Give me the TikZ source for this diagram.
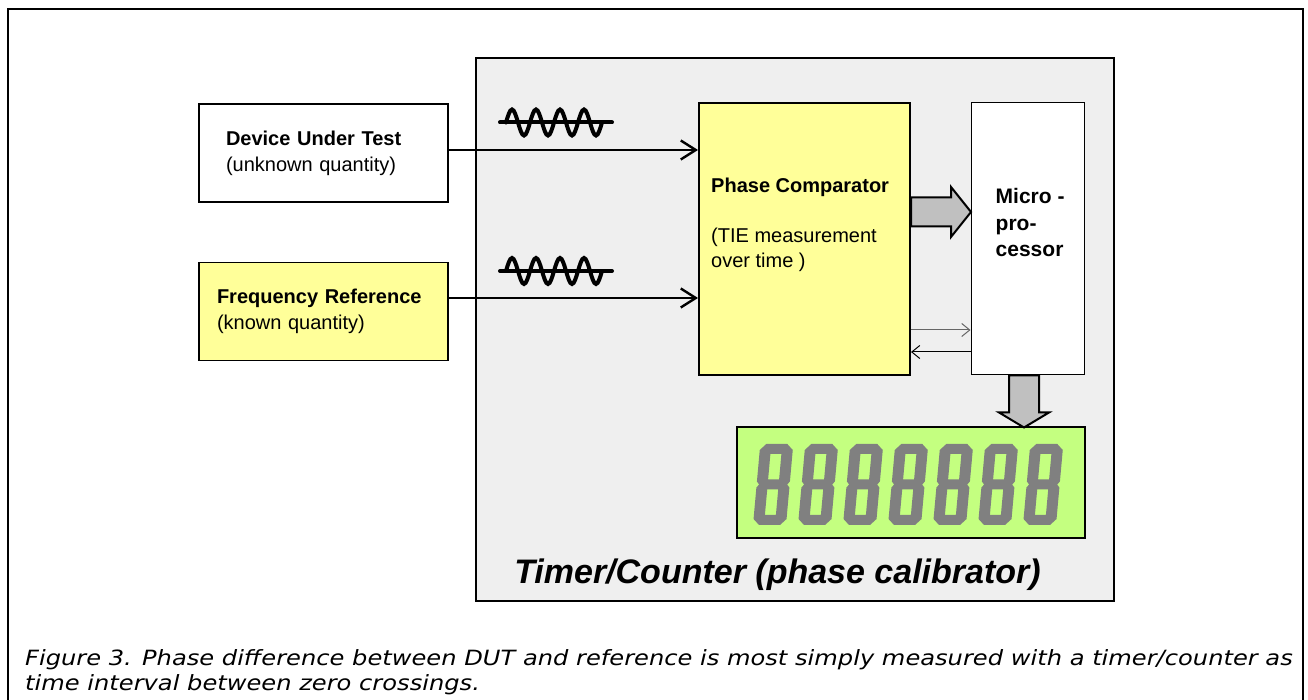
\documentclass[tikz,border=0pt]{standalone}
\usepackage{fontspec}
\setmainfont{Liberation Sans}
\newfontfamily\capfont[FakeStretch=1.15]{DejaVu Sans}
\usepackage{tikz}
\usetikzlibrary{arrows.meta}
\definecolor{boxyellow}{RGB}{255,255,153}
\definecolor{lcdgreen}{RGB}{196,255,128}
\definecolor{casegray}{RGB}{239,239,239}
\definecolor{fatgray}{RGB}{192,192,192}
\definecolor{seggray}{RGB}{128,128,128}
\tikzstyle{line} = [draw, line width=2.4pt, -{Straight Barb[length=15pt,width=19pt]}]
\tikzstyle{thin_line} = [draw, line width=1pt, -{Straight Barb[length=8pt,width=13pt]}]
\tikzstyle{fat_arrow} = [draw, line width=2pt, fill=fatgray, line join=miter]
\tikzstyle{wave} = [draw, line width=4pt, line cap=round]
\tikzstyle{case_box} = [rectangle, draw, line width=2pt, fill=casegray, minimum width=638pt, minimum height=543pt]
\tikzstyle{src_box} = [rectangle, draw, line width=1.6pt, minimum width=249pt, minimum height=98pt, align=left, font=\fontsize{20}{26}\selectfont]
\tikzstyle{comp_box} = [rectangle, draw, line width=2pt, fill=boxyellow, minimum width=211pt, minimum height=272pt]
\tikzstyle{cpu_box} = [rectangle, draw, line width=1pt, fill=white, minimum width=113pt, minimum height=272pt]
\tikzstyle{lcd_box} = [rectangle, draw, line width=1.6pt, fill=lcdgreen, minimum width=348pt, minimum height=111pt]
\tikzstyle{txt} = [inner sep=0pt, anchor=north west, align=left, font=\fontsize{20}{25}\selectfont]
\tikzstyle{segs} = [fill=seggray, even odd rule]
\begin{document}
\begin{tikzpicture}[x=1pt, y=1pt]
	\useasboundingbox (0,0) rectangle (1308,700);
	\draw [line width=2.5pt] (8,0) -- (8,691) -- (1303,691) -- (1303,0);

	\node [case_box] (timer) at (795,370.5) {};

	\node [src_box, fill=white, text width=195pt, inner xsep=27pt] (dut) at (323.5,547) {\textbf{Device Under Test}\\(unknown quantity)};
	\node [src_box, fill=boxyellow, text width=213pt, inner xsep=18pt, below of=dut, node distance=158.5pt] (freq) {\textbf{Frequency Reference}\\(known quantity)};

	\node [comp_box, right of=dut, node distance=481pt, yshift=-86pt] (phase) {};
	\node [cpu_box, right of=phase, node distance=223pt] (cpu) {};
	\node [lcd_box, below of=cpu, node distance=243.5pt, xshift=-116.5pt] (lcd) {};

	\node [txt] (phase_txt) at ([xshift=13pt,yshift=-76pt]phase.north west) {\textbf{Phase Comparator}\\[25pt](TIE measurement\\over time )};
	\node [txt, font=\bfseries\fontsize{21}{26.5}\selectfont] (cpu_txt) at ([xshift=25pt,yshift=-86pt]cpu.north west) {Micro -\\pro-\\cessor};

	\path [line] ([yshift=3pt]dut.east) -- ([yshift=3pt]dut.east -| phase.west);
	\path [line] ([yshift=13.5pt]freq.east) -- ([yshift=13.5pt]freq.east -| phase.west);

	\foreach \wy in {577.5,429} {
		\draw [wave] (500,\wy) -- (612,\wy);
		\draw [wave] (506,\wy) \foreach \k in {1,...,4} { sin ++(6,13) cos ++(6,-13) sin ++(6,-13) cos ++(6,13) };
	}

	\draw [fat_arrow] ([yshift=12.5pt]phase.east) -- ++(40,0) -- ++(0,-10.5) -- ++(20,25) -- ++(-20,25) -- ++(0,-10.5) -- ++(-40,0) -- cycle;
	\path [thin_line, draw=black!60] ([yshift=-91pt]phase.east) -- ([yshift=-91pt]phase.east -| cpu.west);
	\path [thin_line] ([yshift=-113pt]cpu.west) -- ([yshift=-113pt]cpu.west -| phase.east);
	\draw [fat_arrow] ([xshift=-18.5pt]cpu.south) -- ++(0,-37) -- ++(-10,0) -- ++(25,-15) -- ++(25,15) -- ++(-10,0) -- ++(0,37) -- cycle;

	\foreach \d in {0,...,6}
		\fill [segs, shift={(753+45*\d,175)}, xslant=0.09] (6,0) -- (27,0) -- (33,6) -- (33,37.5) -- (30.5,40.5) -- (33,43.5) -- (33,75) -- (27,81) -- (6,81) -- (0,75) -- (0,43.5) -- (2.5,40.5) -- (0,37.5) -- (0,6) -- cycle
			(11,10) rectangle (22,35.5) (11,45.5) rectangle (22,71);

	\node [anchor=base, font=\bfseries\itshape\fontsize{34}{40}\selectfont] (title) at ([xshift=-17.5pt,yshift=18pt]timer.south) {Timer/Counter (phase calibrator)};

	\node [anchor=north west, align=left, inner sep=0pt, font=\capfont\itshape\fontsize{21}{25}\selectfont] (caption) at (25,51) {Figure 3. Phase difference between DUT and reference is most simply measured with a timer/counter as\\time interval between zero crossings.};
\end{tikzpicture}
\end{document}
